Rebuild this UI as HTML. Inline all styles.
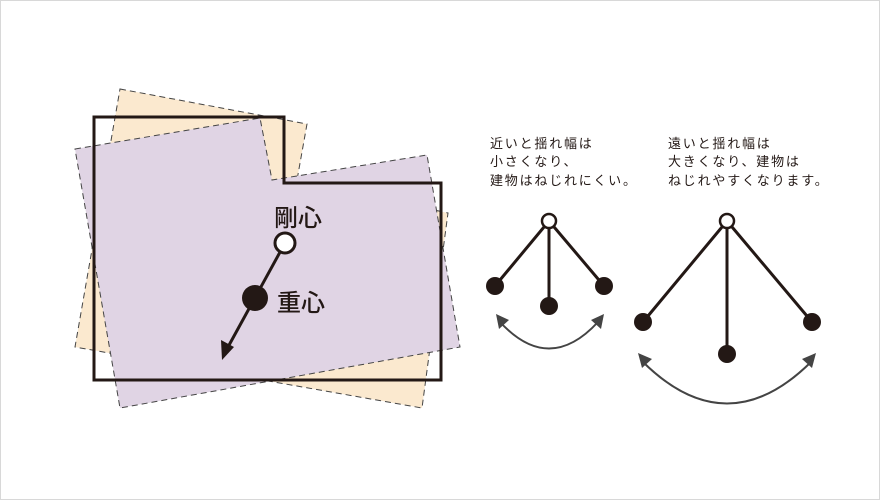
<!DOCTYPE html><html><head><meta charset="utf-8"><style>body{margin:0;background:#fff}svg{display:block}</style></head><body>
<svg width="880" height="500" viewBox="0 0 880 500" xmlns="http://www.w3.org/2000/svg">
<rect x="0.5" y="0.5" width="879" height="499" fill="#fff" stroke="#d8d8d8"/>
<polygon points="120,89 307,124 297,180 448,213 422,408 75,347" fill="#fbe9cf" stroke="#444" stroke-dasharray="6,4" stroke-width="1"/>
<polygon points="75,149 260,118 272,180 427,155 460,347 120,408" fill="#e0d4e4" stroke="#444" stroke-dasharray="6,4" stroke-width="1"/>
<polygon points="94,117 284,117 284,183 441,183 441,380 94,380" fill="none" stroke="#231815" stroke-width="3"/>
<line x1="285" y1="243" x2="228" y2="347" stroke="#231815" stroke-width="3"/>
<polygon points="222,360 221,340 234,347" fill="#231815"/>
<circle cx="285" cy="243" r="10" fill="#fff" stroke="#231815" stroke-width="3"/>
<circle cx="255" cy="298" r="13" fill="#231815"/>
<g font-family="Liberation Sans, Noto Sans CJK JP, sans-serif" fill="#231815">
<text x="274" y="226" font-size="24" font-weight="500">剛心</text>
<text x="277" y="311" font-size="24" font-weight="500">重心</text>
<g font-size="13" letter-spacing="1.8">
<text x="490" y="148">近いと揺れ幅は</text>
<text x="490" y="166">小さくなり、</text>
<text x="490" y="185">建物はねじれにくい。</text>
<text x="668" y="148">遠いと揺れ幅は</text>
<text x="668" y="166">大きくなり、建物は</text>
<text x="668" y="185">ねじれやすくなります。</text>
</g></g>
<g stroke="#231815" stroke-width="3">
<line x1="549" y1="221" x2="495" y2="286"/><line x1="549" y1="221" x2="549" y2="306"/><line x1="549" y1="221" x2="604" y2="286"/>
<line x1="727" y1="221" x2="643" y2="322"/><line x1="727" y1="221" x2="727" y2="354"/><line x1="727" y1="221" x2="812" y2="322"/>
</g>
<g fill="#231815"><circle cx="495" cy="286" r="9"/><circle cx="549" cy="306" r="9"/><circle cx="604" cy="286" r="9"/>
<circle cx="643" cy="322" r="9"/><circle cx="727" cy="354" r="9"/><circle cx="812" cy="322" r="9"/></g>
<circle cx="549" cy="221" r="7" fill="#fff" stroke="#231815" stroke-width="2.5"/>
<circle cx="727" cy="221" r="7" fill="#fff" stroke="#231815" stroke-width="2.5"/>
<g fill="none" stroke="#444" stroke-width="2">
<path d="M500,322 Q549,375 598,322"/>
<path d="M643,362 Q727,445 811,362"/>
</g>
<g fill="#444">
<polygon points="496,314 509,320 499,329"/>
<polygon points="604,314 591,320 601,329"/>
<polygon points="638,353 652,359 642,368"/>
<polygon points="816,353 802,359 812,368"/>
</g>
</svg></body></html>
